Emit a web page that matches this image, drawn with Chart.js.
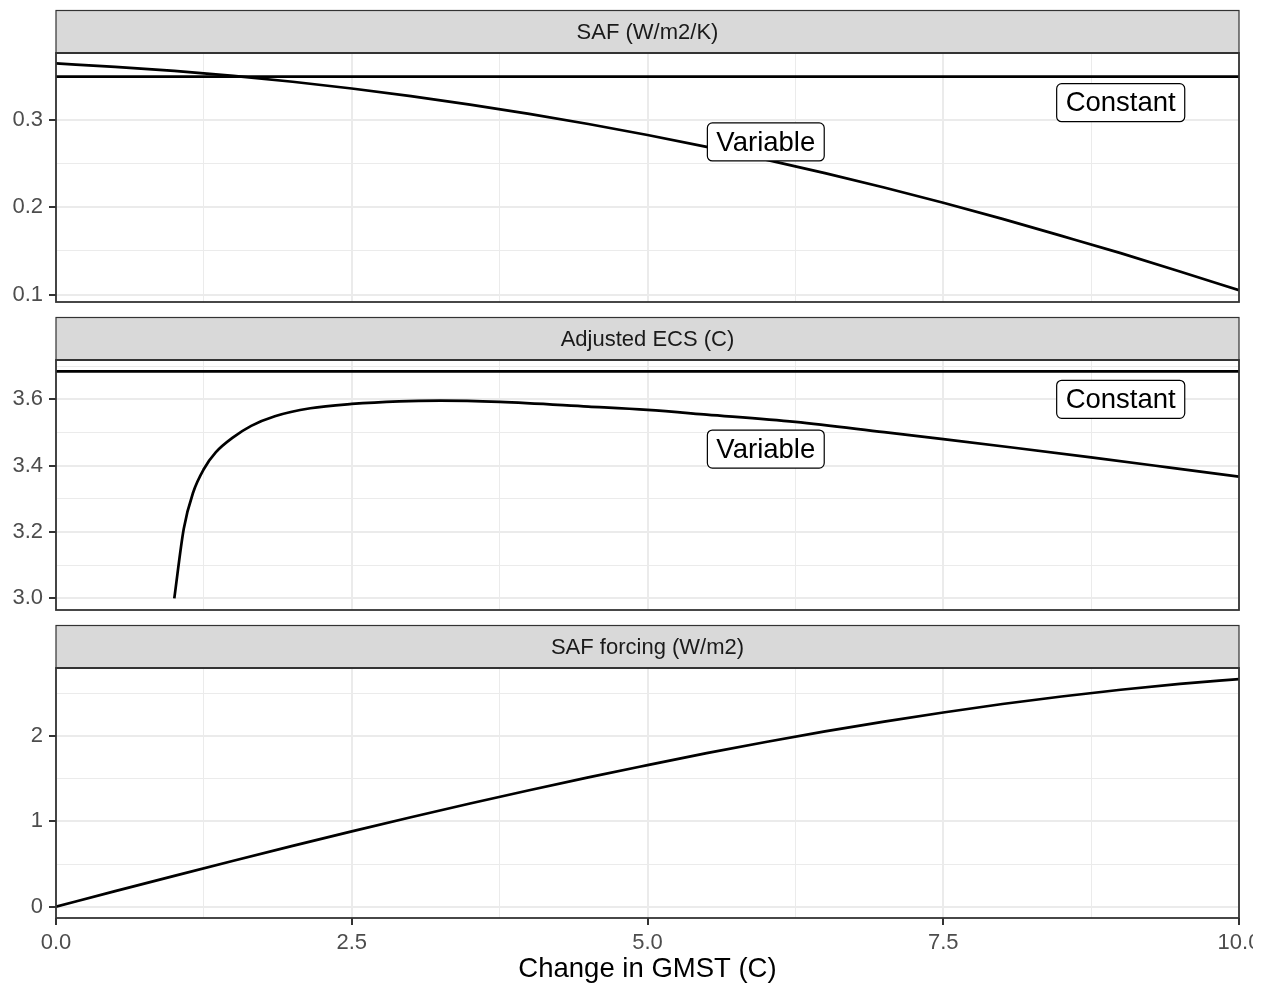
<!DOCTYPE html>
<html>
<head>
<meta charset="utf-8">
<script src="https://cdn.jsdelivr.net/npm/chart.js@4.4.0/dist/chart.umd.min.js"></script>
<style>
  html, body { margin: 0; padding: 0; background: #ffffff; }
  #wrap { position: relative; width: 1253px; height: 988px; overflow: hidden; }
  #wrap canvas { position: absolute; left: 0; top: 0; }
</style>
</head>
<body>
<div id="wrap">
  <canvas id="safChart" width="1290" height="988"></canvas>
  <canvas id="ecsChart" width="1290" height="988"></canvas>
  <canvas id="forcingChart" width="1290" height="988"></canvas>
</div>
<script>
// x axis: change in GMST (C)
const gmst = [0, 0.5, 1, 1.5, 2, 2.5, 3, 3.5, 4, 4.5, 5, 5.5, 6, 6.5, 7, 7.5, 8, 8.5, 9, 9.5, 10];
const xTicks = [0, 1.25, 2.5, 3.75, 5, 6.25, 7.5, 8.75, 10];
const xMajor = [0, 2.5, 5, 7.5, 10];
const xLabels = ["0.0", "2.5", "5.0", "7.5", "10.0"];

// panel 1: SAF (W/m2/K)
const safVariable = [0.365, 0.3612, 0.3564, 0.3507, 0.344, 0.3363, 0.3276, 0.3179, 0.3072, 0.2956, 0.283,
  0.2694, 0.2548, 0.2393, 0.2228, 0.2053, 0.1868, 0.1673, 0.1475, 0.1265, 0.105];
const safConstant = [0.35, 0.35];
const safTicks = [0.1, 0.15, 0.2, 0.25, 0.3, 0.35];
const safMajor = [0.1, 0.2, 0.3];
const safTickLabels = ["0.1", "0.2", "0.3"];

// panel 2: Adjusted ECS (C)
const ecsX = [1.0, 1.08, 1.16, 1.25, 1.35, 1.5, 1.65, 1.85, 2.15, 2.5, 2.9, 3.25, 3.75, 4.5, 5.0,
  5.5, 6.25, 7.0, 7.5, 8.1, 8.75, 9.4, 10];
const ecsVariable = [3.0, 3.21, 3.32, 3.39, 3.44, 3.486, 3.52, 3.549, 3.573, 3.586, 3.594, 3.596,
  3.592, 3.578, 3.568, 3.554, 3.532, 3.501, 3.48, 3.454, 3.425, 3.395, 3.367];
const ecsConstant = [3.684, 3.684];
const ecsTicks = [3.0, 3.1, 3.2, 3.3, 3.4, 3.5, 3.6, 3.7];
const ecsMajor = [3.0, 3.2, 3.4, 3.6];
const ecsTickLabels = ["3.0", "3.2", "3.4", "3.6"];

// panel 3: SAF forcing (W/m2)
const forcing = [0, 0.182, 0.361, 0.538, 0.712, 0.882, 1.048, 1.209, 1.365, 1.516, 1.659,
  1.799, 1.930, 2.054, 2.169, 2.276, 2.375, 2.463, 2.542, 2.610, 2.667];
const forcingTicks = [0, 0.5, 1, 1.5, 2, 2.5];
const forcingMajor = [0, 1, 2];
const forcingTickLabels = ["0", "1", "2"];

// text labels (Constant / Variable)
const labelText = ["Constant", "Variable"];
const labelX = [9, 6];
const safLabelY = [0.32, 0.275];
const ecsLabelY = [3.6, 3.45];

const FONT = '"Liberation Sans", Arial, Helvetica, sans-serif';
const constX = [0, 10];

function pts(xs, ys) {
  return xs.map((x, i) => ({ x: x, y: ys[i] }));
}

function isIn(list, v) {
  return list.some((m) => Math.abs(m - v) < 1e-9);
}

const panelDecor = {
  id: "panelDecor",
  afterDatasetsDraw(chart, args, opts) {
    const { ctx, scales } = chart;
    ctx.save();
    ctx.font = "27.5px " + FONT;
    ctx.textAlign = "center";
    ctx.textBaseline = "middle";
    (opts.labels || []).forEach((l) => {
      const px = scales.x.getPixelForValue(l.x);
      const py = scales.y.getPixelForValue(l.y);
      const w = ctx.measureText(l.text).width + 18;
      const h = 38;
      ctx.beginPath();
      ctx.roundRect(px - w / 2, py - h / 2, w, h, 5);
      ctx.fillStyle = "#ffffff";
      ctx.fill();
      ctx.lineWidth = 1.2;
      ctx.strokeStyle = "#000000";
      ctx.stroke();
      ctx.fillStyle = "#000000";
      ctx.fillText(l.text, px, py + 1);
    });
    ctx.restore();
  },
  afterDraw(chart, args, opts) {
    const { ctx, chartArea: a } = chart;
    ctx.save();
    // panel border
    ctx.lineWidth = 1.8;
    ctx.strokeStyle = "#333333";
    ctx.strokeRect(a.left, a.top, a.right - a.left, a.bottom - a.top);
    // strip
    const sh = 42.5;
    ctx.fillStyle = "#d9d9d9";
    ctx.fillRect(a.left, a.top - sh, a.right - a.left, sh);
    ctx.lineWidth = 1.2;
    ctx.strokeRect(a.left, a.top - sh, a.right - a.left, sh);
    ctx.lineWidth = 1.8;
    ctx.beginPath();
    ctx.moveTo(a.left, a.top);
    ctx.lineTo(a.right, a.top);
    ctx.stroke();
    ctx.fillStyle = "#1a1a1a";
    ctx.font = "22px " + FONT;
    ctx.textAlign = "center";
    ctx.textBaseline = "middle";
    ctx.fillText(opts.title, (a.left + a.right) / 2, a.top - sh / 2 + 1);
    ctx.restore();
  },
};

function xScale(showLabels) {
  return {
    type: "linear",
    min: 0,
    max: 10,
    afterBuildTicks: (axis) => {
      axis.ticks = xTicks.map((v) => ({ value: v }));
    },
    afterFit: (axis) => {
      axis.height = showLabels ? 70 : 0;
    },
    border: { display: false },
    grid: {
      color: "#ebebeb",
      lineWidth: (c) => (isIn(xMajor, c.tick.value) ? 2 : 1),
      drawTicks: showLabels,
      tickLength: 7,
      tickWidth: 2,
      tickColor: (c) => (isIn(xMajor, c.tick.value) ? "#333333" : "rgba(0,0,0,0)"),
    },
    ticks: {
      display: showLabels,
      autoSkip: false,
      maxRotation: 0,
      padding: 5,
      color: "#4d4d4d",
      font: { family: FONT, size: 22 },
      callback: (v) => {
        const i = xMajor.findIndex((m) => Math.abs(m - v) < 1e-9);
        return i >= 0 ? xLabels[i] : "";
      },
    },
    title: {
      display: showLabels,
      text: "Change in GMST (C)",
      color: "#000000",
      font: { family: FONT, size: 27.5 },
      padding: { top: 0, bottom: 2 },
    },
  };
}

function yScale(min, max, ticks, majors, labels) {
  return {
    type: "linear",
    min: min,
    max: max,
    afterBuildTicks: (axis) => {
      axis.ticks = ticks.map((v) => ({ value: v }));
    },
    afterFit: (axis) => {
      axis.width = 56;
    },
    border: { display: false },
    grid: {
      color: "#ebebeb",
      lineWidth: (c) => (isIn(majors, c.tick.value) ? 2 : 1),
      tickLength: 7,
      tickWidth: 2,
      tickColor: (c) => (isIn(majors, c.tick.value) ? "#333333" : "rgba(0,0,0,0)"),
    },
    ticks: {
      autoSkip: false,
      padding: 6,
      color: "#4d4d4d",
      font: { family: FONT, size: 22 },
      callback: (v) => {
        const i = majors.findIndex((m) => Math.abs(m - v) < 1e-9);
        return i >= 0 ? labels[i] : "";
      },
    },
  };
}

function lineSet(data) {
  return {
    data: data,
    borderColor: "#000000",
    borderWidth: 2.7,
    pointRadius: 0,
    fill: false,
    cubicInterpolationMode: "monotone",
  };
}

function makePanel(id, cfg) {
  const ctx = document.getElementById(id).getContext("2d");
  return new Chart(ctx, {
    type: "line",
    data: { datasets: cfg.datasets.map(lineSet) },
    options: {
      responsive: false,
      animation: false,
      devicePixelRatio: 1,
      events: [],
      layout: { padding: { top: cfg.top, bottom: cfg.bottom, left: 0, right: 51 } },
      scales: {
        x: xScale(cfg.showX),
        y: yScale(cfg.yMin, cfg.yMax, cfg.ticks, cfg.majors, cfg.labels),
      },
      plugins: {
        legend: { display: false },
        tooltip: { enabled: false },
        panelDecor: { title: cfg.title, labels: cfg.textLabels },
      },
    },
    plugins: [panelDecor],
  });
}

function textLabels(ys) {
  return labelText.map((t, i) => ({ text: t, x: labelX[i], y: ys[i] }));
}

makePanel("safChart", {
  title: "SAF (W/m2/K)",
  top: 53, bottom: 686, showX: false,
  yMin: 0.0915, yMax: 0.377,
  ticks: safTicks, majors: safMajor, labels: safTickLabels,
  datasets: [pts(gmst, safVariable), pts(constX, safConstant)],
  textLabels: textLabels(safLabelY),
});

makePanel("ecsChart", {
  title: "Adjusted ECS (C)",
  top: 360, bottom: 378, showX: false,
  yMin: 2.965, yMax: 3.7185,
  ticks: ecsTicks, majors: ecsMajor, labels: ecsTickLabels,
  datasets: [pts(ecsX, ecsVariable), pts(constX, ecsConstant)],
  textLabels: textLabels(ecsLabelY),
});

makePanel("forcingChart", {
  title: "SAF forcing (W/m2)",
  top: 668, bottom: 0, showX: true,
  yMin: -0.1325, yMax: 2.797,
  ticks: forcingTicks, majors: forcingMajor, labels: forcingTickLabels,
  datasets: [pts(gmst, forcing)],
  textLabels: [],
});
</script>
</body>
</html>
